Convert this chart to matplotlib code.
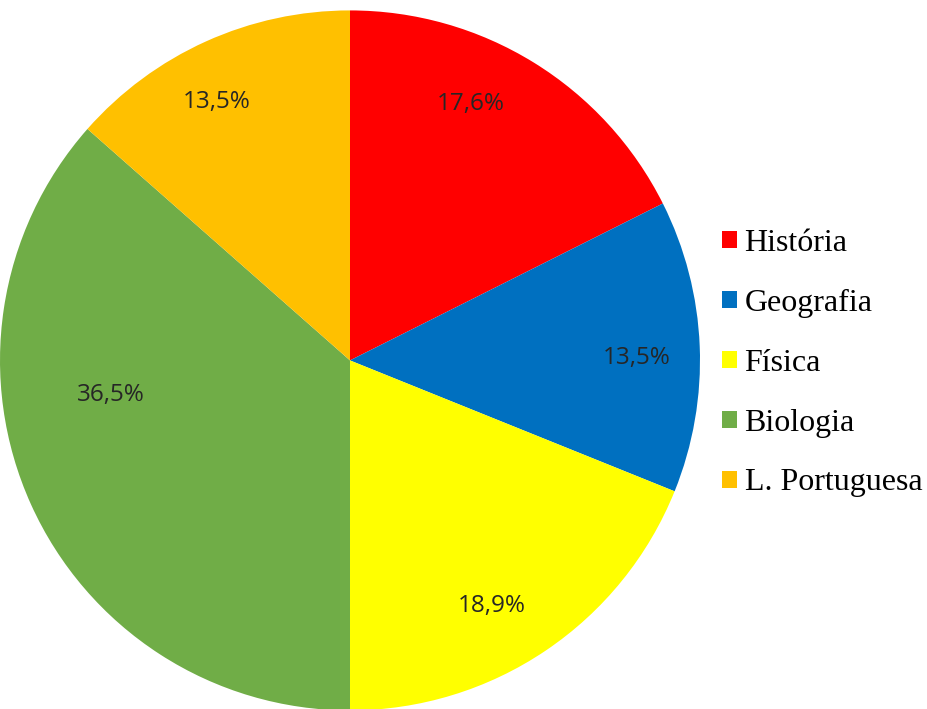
import matplotlib.pyplot as plt
import numpy as np

# disciplinas e percentuais
disciplinas = ['História', 'Geografia', 'Física', 'Biologia', 'L. Portuguesa']
percentuais = [17.6, 13.5, 18.9, 36.5, 13.5]
cores = ['#ff0000', '#0070c0', '#ffff00', '#70ad47', '#ffc000']

fig = plt.figure(figsize=(9.27, 7.09), dpi=100)
ax = fig.add_axes([0, -0.002, 700 / 927, 700 / 709])

wedges, textos, pct = ax.pie(
    percentuais, colors=cores, startangle=90, counterclock=False,
    autopct=lambda p: f'{p:.1f}%'.replace('.', ','), pctdistance=0.81,
    wedgeprops={'linewidth': 0},
    textprops={'fontsize': 17.5, 'family': 'Open Sans', 'color': '#262626'})

# ajuste dos rótulos (posição "best fit" do Excel): (giro em graus, raio)
ajustes = {0: (6.5, 0.81), 1: (-1.8, 0.82), 2: (-4, 0.81),
           3: (-16, 0.69), 4: (3, 0.83)}
for i, (giro, r) in ajustes.items():
    x, y = pct[i].get_position()
    ang = np.arctan2(y, x) + np.deg2rad(giro)
    pct[i].set_position((r * np.cos(ang), r * np.sin(ang)))

ax.set_xlim(-1, 1)
ax.set_ylim(-1, 1)
ax.set_aspect('equal')
ax.axis('off')

leg = fig.legend(wedges, disciplinas, loc='center left',
                 bbox_to_anchor=(0.748, 0.488), frameon=False,
                 prop={'family': 'Liberation Serif', 'size': 23},
                 handlelength=0.45, handleheight=0.45, handletextpad=0.25,
                 labelspacing=0.97)

fig.savefig('out.png', dpi=100)
